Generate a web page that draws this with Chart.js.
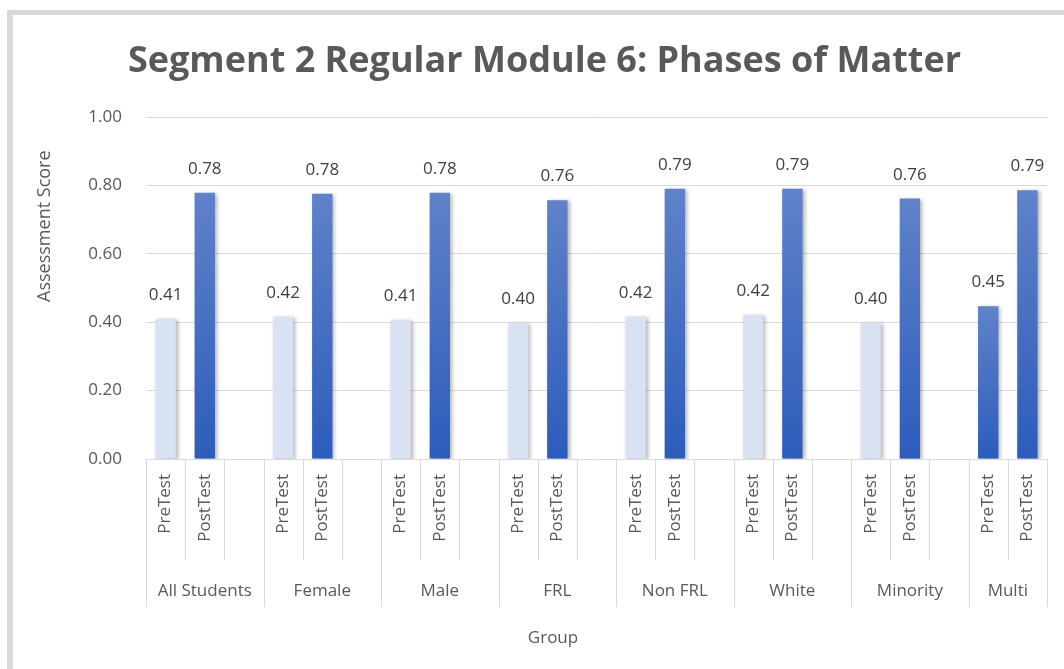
<!DOCTYPE html>
<html>
<head>
<meta charset="utf-8">
<script src="https://cdn.jsdelivr.net/npm/chart.js@4.4.0/dist/chart.umd.min.js"></script>
<style>
    html, body { margin: 0; padding: 0; background: #fff; overflow: hidden; }
    #wrap { position: relative; width: 1064px; height: 669px; overflow: hidden; }
    #frame { position: absolute; left: 7px; top: 10px; width: 1100px; height: 700px;
             border-left: 6px solid #d9d9d9; border-top: 5px solid #d9d9d9; }
    canvas { position: absolute; left: 0; top: 0; }
</style>
</head>
<body>
<div id="wrap">
    <div id="frame"></div>
    <canvas id="chart" width="1064" height="669"></canvas>
</div>
<script>
const groups = ['All Students', 'Female', 'Male', 'FRL', 'Non FRL', 'White', 'Minority', 'Multi'];
const preScores = [0.409, 0.416, 0.406, 0.399, 0.416, 0.421, 0.399, 0.447];
const postScores = [0.779, 0.776, 0.779, 0.757, 0.791, 0.791, 0.762, 0.786];
const testLabels = ['PreTest', 'PostTest'];
const yTicks = [0, 0.2, 0.4, 0.6, 0.8, 1.0];
// the Multi PreTest bar is drawn in the dark series colour in the original
const darkPreGroups = ['Multi'];

const TEXT = '#595959';
const FONT = '"Open Sans", sans-serif';

// one slot per bar, plus an empty slot after every group but the last
const slotLabels = [];
const slotValues = [];
const slotKind = [];
const slotGroup = [];
groups.forEach((g, i) => {
    slotLabels.push(testLabels[0], testLabels[1]);
    slotValues.push(preScores[i], postScores[i]);
    slotKind.push('pre', 'post');
    slotGroup.push(i, i);
    if (i < groups.length - 1) {
        slotLabels.push('');
        slotValues.push(null);
        slotKind.push('gap');
        slotGroup.push(i);
    }
});

function barFill(c) {
    const i = c.dataIndex;
    const light = slotKind[i] === 'pre' && !darkPreGroups.includes(groups[slotGroup[i]]);
    if (light) return '#d9e2f3';
    const chart = c.chart;
    if (!chart.chartArea || !c.parsed || c.parsed.y == null) return '#4472c4';
    const y = chart.scales.y;
    const top = y.getPixelForValue(c.parsed.y);
    const base = y.getPixelForValue(0);
    const g = chart.ctx.createLinearGradient(0, top, 0, base);
    g.addColorStop(0, '#5f82c9');
    g.addColorStop(1, '#2c5cbb');
    return g;
}

const barShadow = {
    id: 'barShadow',
    beforeDatasetsDraw(chart) {
        const ctx = chart.ctx;
        ctx.save();
        ctx.shadowColor = 'rgba(0,0,0,0.3)';
        ctx.shadowBlur = 4;
        ctx.shadowOffsetX = 2;
        ctx.shadowOffsetY = 1;
    },
    afterDatasetsDraw(chart) { chart.ctx.restore(); }
};

const valueLabels = {
    id: 'valueLabels',
    afterDatasetsDraw(chart) {
        const ctx = chart.ctx;
        const meta = chart.getDatasetMeta(0);
        ctx.save();
        ctx.font = `17px ${FONT}`;
        ctx.fillStyle = '#404040';
        ctx.textAlign = 'center';
        ctx.textBaseline = 'alphabetic';
        meta.data.forEach((bar, i) => {
            const v = slotValues[i];
            if (v == null) return;
            ctx.fillText(v.toFixed(2), bar.x, bar.y - 19);
        });
        ctx.restore();
    }
};

const categoryAxis = {
    id: 'categoryAxis',
    afterDraw(chart) {
        const ctx = chart.ctx;
        const area = chart.chartArea;
        const x = chart.scales.x;
        const n = slotLabels.length;
        const w = (area.right - area.left) / n;
        const edge = k => x.getPixelForValue(Math.min(k, n - 1)) + (k === n ? w / 2 : -w / 2);

        ctx.save();
        ctx.strokeStyle = '#d9d9d9';
        ctx.lineWidth = 1;
        ctx.beginPath();
        ctx.moveTo(area.left, Math.round(area.bottom) + 0.5);
        ctx.lineTo(area.right, Math.round(area.bottom) + 0.5);
        const starts = [];
        for (let k = 0; k <= n; k++) {
            const long = k === n || slotKind[k] === 'pre';
            if (long) starts.push(k);
            const px = Math.round(edge(k)) + 0.5;
            ctx.moveTo(px, area.bottom);
            ctx.lineTo(px, area.bottom + (long ? 148 : 101));
        }
        ctx.stroke();

        ctx.fillStyle = TEXT;
        ctx.font = `17px ${FONT}`;
        ctx.textAlign = 'center';
        ctx.textBaseline = 'middle';
        groups.forEach((g, i) => {
            const cx = (edge(starts[i]) + edge(starts[i + 1])) / 2;
            ctx.fillText(g, cx, area.bottom + 132);
        });

        // axis titles
        ctx.fillText('Group', area.left + 407, area.bottom + 179);
        ctx.translate(area.left - 101, area.top + 109);
        ctx.rotate(-Math.PI / 2);
        ctx.font = `18px ${FONT}`;
        ctx.fillText('Assessment Score', 0, 0);
        ctx.restore();
    }
};

new Chart(document.getElementById('chart'), {
    type: 'bar',
    data: {
        labels: slotLabels,
        datasets: [{
            label: 'Score',
            data: slotValues,
            backgroundColor: barFill,
            borderWidth: 0,
            categoryPercentage: 1,
            barPercentage: 0.52
        }]
    },
    options: {
        responsive: false,
        animation: false,
        devicePixelRatio: 1,
        layout: { padding: { top: 40, left: 42, right: 17, bottom: 0 } },
        plugins: {
            legend: { display: false },
            tooltip: { enabled: false },
            title: {
                display: true,
                text: 'Segment 2 Regular Module 6: Phases of Matter',
                color: TEXT,
                font: { family: FONT, size: 36, weight: 'bold' },
                padding: { top: 0, bottom: 34 }
            }
        },
        scales: {
            x: {
                grid: { display: false, drawTicks: false },
                border: { display: false },
                ticks: {
                    autoSkip: false,
                    minRotation: 90,
                    maxRotation: 90,
                    padding: 15,
                    color: TEXT,
                    font: { family: FONT, size: 17 }
                },
                afterFit(scale) { scale.height = 210; }
            },
            y: {
                min: 0,
                max: 1,
                afterBuildTicks(scale) { scale.ticks = yTicks.map(v => ({ value: v })); },
                grid: { color: '#d9d9d9', drawTicks: false },
                border: { display: false },
                ticks: {
                    padding: 24,
                    color: TEXT,
                    font: { family: FONT, size: 17 },
                    callback: v => v.toFixed(2)
                },
                afterFit(scale) { scale.width = 104; }
            }
        }
    },
    plugins: [barShadow, valueLabels, categoryAxis]
});
</script>
</body>
</html>
